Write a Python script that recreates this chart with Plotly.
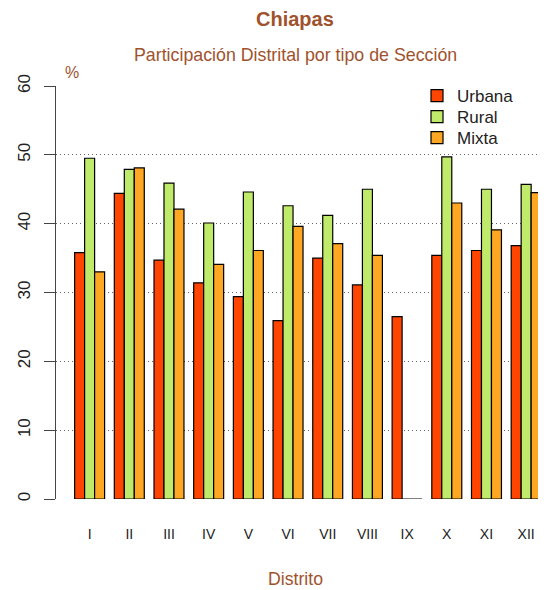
import plotly.graph_objects as go

distritos = ["I", "II", "III", "IV", "V", "VI", "VII", "VIII", "IX", "X", "XI", "XII"]
urbana = [35.8, 44.4, 34.7, 31.4, 29.4, 25.9, 35.0, 31.1, 26.5, 35.4, 36.1, 36.8]
rural = [49.5, 47.9, 45.9, 40.1, 44.6, 42.6, 41.2, 45.0, 0.0, 49.7, 45.0, 45.7]
mixta = [33.0, 48.1, 42.1, 34.1, 36.1, 39.6, 37.1, 35.4, 0.0, 43.0, 39.1, 44.5]

series = [("Urbana", urbana, "#FF4500"), ("Rural", rural, "#C0EB6A"), ("Mixta", mixta, "#FFA722")]
brown = "#A0522D"

# page body has an 8px margin; work in window pixels and shift by OFF
OFF = 8
W, H = 546 - OFF, 590 - OFF
L = 56 - OFF
T = 86 - OFF
B = H - (499 - OFF)
PW = W - L
PH = H - T - B

def px(x):
    return (x - OFF - L) / PW

def py(y):
    return 1 - (y - OFF - T) / PH

legend_ids = ["legend", "legend2", "legend3"]
legend_rows = [95, 116, 137]

fig = go.Figure()
for (name, vals, col), lid in zip(series, legend_ids):
    fig.add_trace(go.Bar(x=distritos, y=vals, name=name, legend=lid,
                         marker=dict(color=col, line=dict(color="black", width=1.2))))

layout_legends = {}
for lid, row in zip(legend_ids, legend_rows):
    layout_legends[lid] = dict(x=px(417), y=py(row - 17), xanchor="left", yanchor="top",
                               bgcolor="rgba(0,0,0,0)", font=dict(size=17, color="#222"),
                               itemclick=False)

fig.update_layout(
    width=W, height=H,
    margin=dict(l=L, r=0, t=T, b=B, pad=0),
    plot_bgcolor="white", paper_bgcolor="white",
    barmode="group", bargap=0.245, bargroupgap=0,
    font=dict(family="Liberation Sans, Arial, sans-serif", color="#222"),
    showlegend=True,
    xaxis=dict(type="category", range=[-0.847, 11.5], showgrid=False, showline=False, zeroline=False,
               ticks="outside", ticklen=22, tickcolor="rgba(0,0,0,0)",
               tickfont=dict(size=14, color="#222")),
    yaxis=dict(range=[0, 60], tickvals=[0, 10, 20, 30, 40, 50, 60], showgrid=True,
               gridcolor="#666", griddash="1px,3px", gridwidth=1, zeroline=False,
               showline=True, linecolor="#444", linewidth=1,
               ticks="outside", ticklen=11, tickcolor="#444", tickangle=-90,
               ticklabelstandoff=7,
               tickfont=dict(size=17, color="#222")),
    **layout_legends,
)

cx = px(295)
def note(text, x, y, size):
    fig.add_annotation(text=text, x=x, y=y, xref="paper", yref="paper",
                       xanchor="center", yanchor="middle",
                       showarrow=False, font=dict(size=size, color=brown))

note("<b>Chiapas</b>", cx, py(19), 20)
note("Participación Distrital por tipo de Sección", cx, py(55), 17.8)
note("%", px(72), py(72), 16)
note("Distrito", cx, py(579), 17.7)

fig.write_html("out.html")
